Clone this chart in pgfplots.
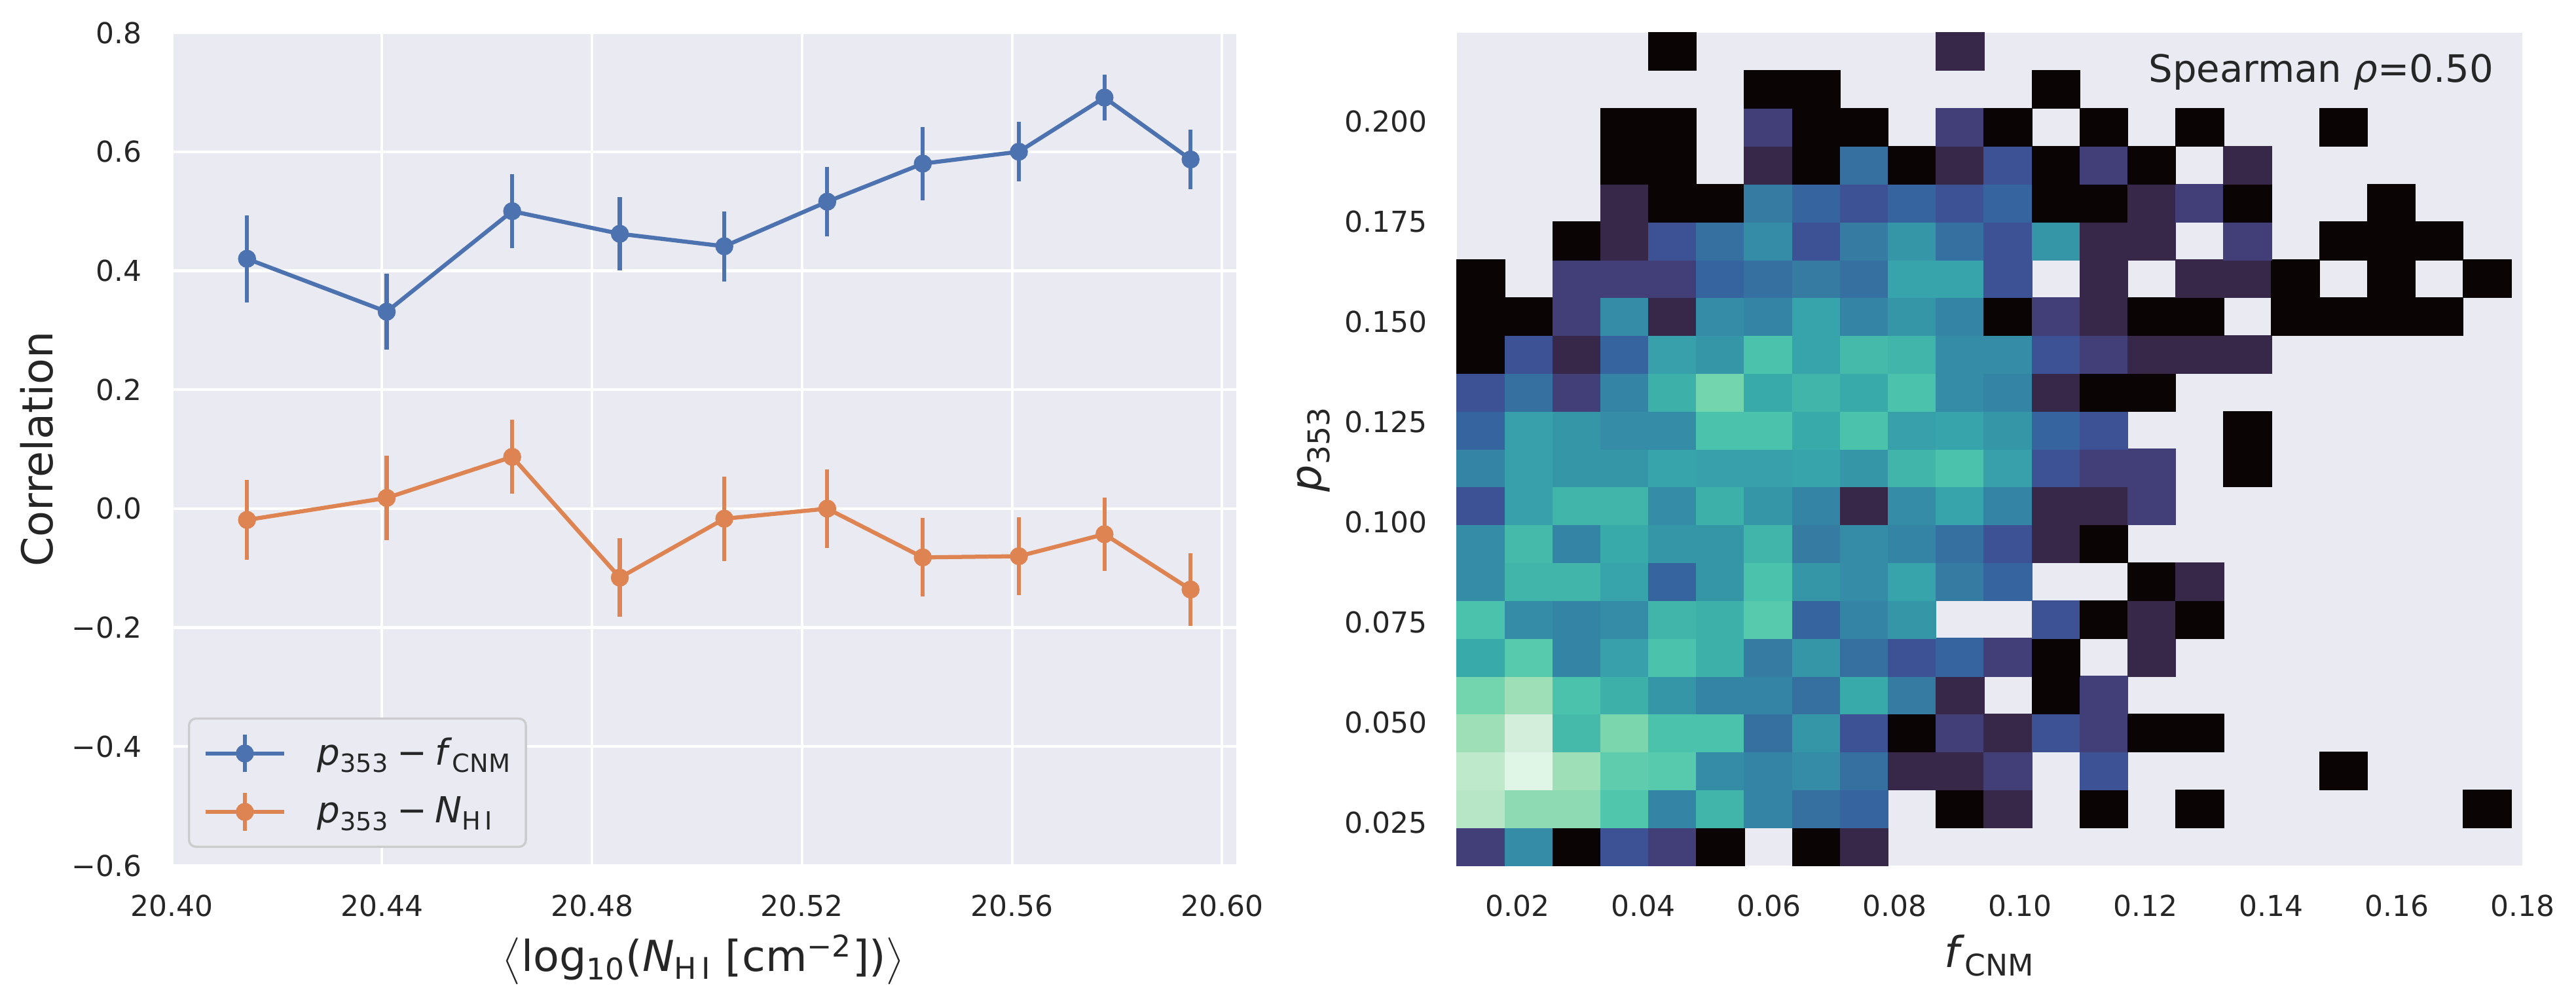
\documentclass[border=0pt]{standalone}
\usepackage{amsmath}
\usepackage{fontspec}
\setmainfont{DejaVu Sans}
\usepackage{pgfplots}
\usepackage{pgfplotstable}
\pgfplotsset{compat=1.18}
\definecolor{bgc}{HTML}{EAEAF2}
\definecolor{txt}{HTML}{262626}
\definecolor{sblue}{HTML}{4C72B0}
\definecolor{sorange}{HTML}{DD8452}
\definecolor{legedge}{HTML}{CCCCCC}

% colour classes (class 1 = darkest, 28 = lightest)
\pgfplotsset{colormap={heat}{
rgb255=(234,234,242) rgb255=(10,4,5) rgb255=(55,40,74) rgb255=(66,62,120) rgb255=(61,82,148)
rgb255=(54,100,158) rgb255=(53,112,160) rgb255=(53,123,162) rgb255=(52,132,166) rgb255=(52,140,167)
rgb255=(53,150,167) rgb255=(55,160,170) rgb255=(55,164,171) rgb255=(57,170,170) rgb255=(62,176,170)
rgb255=(65,181,170) rgb255=(69,186,171) rgb255=(75,194,171) rgb255=(80,199,173) rgb255=(87,202,173)
rgb255=(95,205,173) rgb255=(115,213,174) rgb255=(123,214,174) rgb255=(142,218,178) rgb255=(158,223,183)
rgb255=(182,230,198) rgb255=(190,233,203) rgb255=(211,239,220) rgb255=(223,245,230)}}

% non-empty 2-D histogram bins: bin centre x, bin centre y, colour level
\pgfplotstableread[row sep=\\]{
x y c\\
0.01413 0.01905 3\\ 0.02176 0.01905 9\\ 0.02939 0.01905 1\\ 0.03702 0.01905 4\\ 0.04465 0.01905 3\\ 0.05229 0.01905 1\\ 0.06755 0.01905 1\\ 0.07518 0.01905 2\\
0.01413 0.02850 25\\ 0.02176 0.02850 23\\ 0.02939 0.02850 23\\ 0.03702 0.02850 18\\ 0.04465 0.02850 8\\ 0.05229 0.02850 15\\ 0.05992 0.02850 8\\ 0.06755 0.02850 6\\ 0.07518 0.02850 5\\ 0.09045 0.02850 1\\ 0.09808 0.02850 2\\ 0.11334 0.02850 1\\ 0.12861 0.02850 1\\ 0.17440 0.02850 1\\
0.01413 0.03795 26\\ 0.02176 0.03795 28\\ 0.02939 0.03795 24\\ 0.03702 0.03795 20\\ 0.04465 0.03795 19\\ 0.05229 0.03795 9\\ 0.05992 0.03795 8\\ 0.06755 0.03795 9\\ 0.07518 0.03795 6\\ 0.08281 0.03795 2\\ 0.09045 0.03795 2\\ 0.09808 0.03795 3\\ 0.11334 0.03795 4\\ 0.15150 0.03795 1\\
0.01413 0.04740 24\\ 0.02176 0.04740 27\\ 0.02939 0.04740 16\\ 0.03702 0.04740 22\\ 0.04465 0.04740 17\\ 0.05229 0.04740 17\\ 0.05992 0.04740 6\\ 0.06755 0.04740 10\\ 0.07518 0.04740 4\\ 0.08281 0.04740 1\\ 0.09045 0.04740 3\\ 0.09808 0.04740 2\\ 0.10571 0.04740 4\\ 0.11334 0.04740 3\\ 0.12097 0.04740 1\\ 0.12861 0.04740 1\\
0.01413 0.05685 21\\ 0.02176 0.05685 24\\ 0.02939 0.05685 17\\ 0.03702 0.05685 14\\ 0.04465 0.05685 10\\ 0.05229 0.05685 8\\ 0.05992 0.05685 8\\ 0.06755 0.05685 6\\ 0.07518 0.05685 13\\ 0.08281 0.05685 7\\ 0.09045 0.05685 2\\ 0.10571 0.05685 1\\ 0.11334 0.05685 3\\
0.01413 0.06629 13\\ 0.02176 0.06629 19\\ 0.02939 0.06629 8\\ 0.03702 0.06629 11\\ 0.04465 0.06629 17\\ 0.05229 0.06629 14\\ 0.05992 0.06629 7\\ 0.06755 0.06629 10\\ 0.07518 0.06629 6\\ 0.08281 0.06629 4\\ 0.09045 0.06629 5\\ 0.09808 0.06629 3\\ 0.10571 0.06629 1\\ 0.12097 0.06629 2\\
0.01413 0.07574 17\\ 0.02176 0.07574 9\\ 0.02939 0.07574 8\\ 0.03702 0.07574 9\\ 0.04465 0.07574 15\\ 0.05229 0.07574 14\\ 0.05992 0.07574 19\\ 0.06755 0.07574 5\\ 0.07518 0.07574 8\\ 0.08281 0.07574 10\\ 0.10571 0.07574 4\\ 0.11334 0.07574 1\\ 0.12097 0.07574 2\\ 0.12861 0.07574 1\\
0.01413 0.08519 9\\ 0.02176 0.08519 15\\ 0.02939 0.08519 15\\ 0.03702 0.08519 12\\ 0.04465 0.08519 5\\ 0.05229 0.08519 10\\ 0.05992 0.08519 17\\ 0.06755 0.08519 10\\ 0.07518 0.08519 9\\ 0.08281 0.08519 12\\ 0.09045 0.08519 7\\ 0.09808 0.08519 5\\ 0.12097 0.08519 1\\ 0.12861 0.08519 2\\
0.01413 0.09464 9\\ 0.02176 0.09464 16\\ 0.02939 0.09464 8\\ 0.03702 0.09464 13\\ 0.04465 0.09464 10\\ 0.05229 0.09464 10\\ 0.05992 0.09464 15\\ 0.06755 0.09464 7\\ 0.07518 0.09464 9\\ 0.08281 0.09464 8\\ 0.09045 0.09464 6\\ 0.09808 0.09464 4\\ 0.10571 0.09464 2\\ 0.11334 0.09464 1\\
0.01413 0.10409 4\\ 0.02176 0.10409 11\\ 0.02939 0.10409 15\\ 0.03702 0.10409 15\\ 0.04465 0.10409 9\\ 0.05229 0.10409 14\\ 0.05992 0.10409 10\\ 0.06755 0.10409 8\\ 0.07518 0.10409 2\\ 0.08281 0.10409 9\\ 0.09045 0.10409 12\\ 0.09808 0.10409 8\\ 0.10571 0.10409 2\\ 0.11334 0.10409 2\\ 0.12097 0.10409 3\\
0.01413 0.11353 8\\ 0.02176 0.11353 11\\ 0.02939 0.11353 10\\ 0.03702 0.11353 10\\ 0.04465 0.11353 12\\ 0.05229 0.11353 11\\ 0.05992 0.11353 11\\ 0.06755 0.11353 12\\ 0.07518 0.11353 10\\ 0.08281 0.11353 15\\ 0.09045 0.11353 17\\ 0.09808 0.11353 11\\ 0.10571 0.11353 4\\ 0.11334 0.11353 3\\ 0.12097 0.11353 3\\ 0.13624 0.11353 1\\
0.01413 0.12298 5\\ 0.02176 0.12298 11\\ 0.02939 0.12298 10\\ 0.03702 0.12298 9\\ 0.04465 0.12298 9\\ 0.05229 0.12298 17\\ 0.05992 0.12298 17\\ 0.06755 0.12298 13\\ 0.07518 0.12298 17\\ 0.08281 0.12298 11\\ 0.09045 0.12298 12\\ 0.09808 0.12298 10\\ 0.10571 0.12298 5\\ 0.11334 0.12298 4\\ 0.13624 0.12298 1\\
0.01413 0.13243 4\\ 0.02176 0.13243 6\\ 0.02939 0.13243 3\\ 0.03702 0.13243 8\\ 0.04465 0.13243 14\\ 0.05229 0.13243 21\\ 0.05992 0.13243 13\\ 0.06755 0.13243 15\\ 0.07518 0.13243 13\\ 0.08281 0.13243 17\\ 0.09045 0.13243 9\\ 0.09808 0.13243 8\\ 0.10571 0.13243 2\\ 0.11334 0.13243 1\\ 0.12097 0.13243 1\\
0.01413 0.14188 1\\ 0.02176 0.14188 4\\ 0.02939 0.14188 2\\ 0.03702 0.14188 5\\ 0.04465 0.14188 11\\ 0.05229 0.14188 10\\ 0.05992 0.14188 17\\ 0.06755 0.14188 12\\ 0.07518 0.14188 16\\ 0.08281 0.14188 15\\ 0.09045 0.14188 9\\ 0.09808 0.14188 9\\ 0.10571 0.14188 4\\ 0.11334 0.14188 3\\ 0.12097 0.14188 2\\ 0.12861 0.14188 2\\ 0.13624 0.14188 2\\
0.01413 0.15133 1\\ 0.02176 0.15133 1\\ 0.02939 0.15133 3\\ 0.03702 0.15133 9\\ 0.04465 0.15133 2\\ 0.05229 0.15133 9\\ 0.05992 0.15133 8\\ 0.06755 0.15133 12\\ 0.07518 0.15133 8\\ 0.08281 0.15133 10\\ 0.09045 0.15133 8\\ 0.09808 0.15133 1\\ 0.10571 0.15133 3\\ 0.11334 0.15133 2\\ 0.12097 0.15133 1\\ 0.12861 0.15133 1\\ 0.14387 0.15133 1\\ 0.15150 0.15133 1\\ 0.15913 0.15133 1\\ 0.16677 0.15133 1\\
0.01413 0.16077 1\\ 0.02939 0.16077 3\\ 0.03702 0.16077 3\\ 0.04465 0.16077 3\\ 0.05229 0.16077 5\\ 0.05992 0.16077 6\\ 0.06755 0.16077 7\\ 0.07518 0.16077 6\\ 0.08281 0.16077 12\\ 0.09045 0.16077 12\\ 0.09808 0.16077 4\\ 0.11334 0.16077 2\\ 0.12861 0.16077 2\\ 0.13624 0.16077 2\\ 0.14387 0.16077 1\\ 0.15913 0.16077 1\\ 0.17440 0.16077 1\\
0.02939 0.17022 1\\ 0.03702 0.17022 2\\ 0.04465 0.17022 4\\ 0.05229 0.17022 6\\ 0.05992 0.17022 9\\ 0.06755 0.17022 4\\ 0.07518 0.17022 7\\ 0.08281 0.17022 10\\ 0.09045 0.17022 6\\ 0.09808 0.17022 4\\ 0.10571 0.17022 10\\ 0.11334 0.17022 2\\ 0.12097 0.17022 2\\ 0.13624 0.17022 3\\ 0.15150 0.17022 1\\ 0.15913 0.17022 1\\ 0.16677 0.17022 1\\
0.03702 0.17967 2\\ 0.04465 0.17967 1\\ 0.05229 0.17967 1\\ 0.05992 0.17967 7\\ 0.06755 0.17967 5\\ 0.07518 0.17967 4\\ 0.08281 0.17967 5\\ 0.09045 0.17967 4\\ 0.09808 0.17967 5\\ 0.10571 0.17967 1\\ 0.11334 0.17967 1\\ 0.12097 0.17967 2\\ 0.12861 0.17967 3\\ 0.13624 0.17967 1\\ 0.15913 0.17967 1\\
0.03702 0.18912 1\\ 0.04465 0.18912 1\\ 0.05992 0.18912 2\\ 0.06755 0.18912 1\\ 0.07518 0.18912 6\\ 0.08281 0.18912 1\\ 0.09045 0.18912 2\\ 0.09808 0.18912 4\\ 0.10571 0.18912 1\\ 0.11334 0.18912 3\\ 0.12097 0.18912 1\\ 0.13624 0.18912 2\\
0.03702 0.19857 1\\ 0.04465 0.19857 1\\ 0.05992 0.19857 3\\ 0.06755 0.19857 1\\ 0.07518 0.19857 1\\ 0.09045 0.19857 3\\ 0.09808 0.19857 1\\ 0.11334 0.19857 1\\ 0.12861 0.19857 1\\ 0.15150 0.19857 1\\
0.05992 0.20801 1\\ 0.06755 0.20801 1\\ 0.10571 0.20801 1\\
0.04465 0.21746 1\\ 0.09045 0.21746 2\\
}\heat

\pgfplotstableread{
x y e
20.4143 0.420 0.073
20.4409 0.331 0.064
20.4648 0.500 0.062
20.4853 0.462 0.062
20.5052 0.441 0.059
20.5248 0.516 0.058
20.5430 0.580 0.062
20.5613 0.600 0.050
20.5776 0.691 0.039
20.5940 0.587 0.050
}\bluedata

\pgfplotstableread{
x y e
20.4143 -0.019 0.067
20.4409 0.018 0.071
20.4648 0.087 0.062
20.4853 -0.116 0.066
20.5052 -0.017 0.071
20.5248 0.000 0.066
20.5430 -0.082 0.066
20.5613 -0.080 0.065
20.5776 -0.043 0.062
20.5940 -0.136 0.061
}\orangedata

\begin{document}
\begin{tikzpicture}
\path[use as bounding box] (0bp,0bp) rectangle (944.16bp,368.16bp);

\begin{axis}[
  at={(62.64bp,50.88bp)}, anchor=south west,
  scale only axis, width=390.48bp, height=305.28bp,
  xmin=20.3998, xmax=20.6027, ymin=-0.6, ymax=0.8,
  axis background/.style={fill=bgc},
  axis line style={draw=none}, tick style={draw=none}, major tick length=0pt,
  grid=major, major grid style={draw=white, line width=1bp},
  xtick={20.40,20.44,20.48,20.52,20.56,20.60},
  xticklabels={20.40,20.44,20.48,20.52,20.56,20.60},
  ytick={-0.6,-0.4,-0.2,0,0.2,0.4,0.6,0.8},
  yticklabels={−0.6,−0.4,−0.2,0.0,0.2,0.4,0.6,0.8},
  tick label style={font=\fontsize{10.6}{12}\selectfont, text=txt},
  xticklabel style={inner sep=0pt, anchor=north, yshift=-10.6bp},
  yticklabel style={inner sep=0pt, anchor=east, xshift=-10.4bp},
  label style={font=\fontsize{15.7}{18}\selectfont, text=txt},
  xlabel={$\big\langle$log\textsubscript{10}(\textit{N}\textsubscript{H\,I} [cm\textsuperscript{−2}])$\big\rangle$},
  xlabel style={at={(axis description cs:0.5,-0.0825)}, anchor=north, inner sep=0pt},
  ylabel={Correlation},
  ylabel style={at={(axis description cs:-0.126,0.5)}, anchor=center, inner sep=0pt},
  legend cell align=left,
  legend style={at={(axis description cs:0.016,0.0212)}, anchor=south west,
    fill=bgc, draw=legedge, line width=0.8bp, rounded corners=2.5bp,
    font=\fontsize{13.2}{16}\selectfont, text=txt,
    inner xsep=5.2bp, inner ysep=5.2bp, row sep=6.2bp, column sep=11.3bp,
    nodes={inner sep=0pt}},
  legend image code/.code={
    \draw[#1, mark=none] (0bp,0bp) -- (29bp,0bp);
    \draw[#1, mark=none] (14.5bp,-6.85bp) -- (14.5bp,6.85bp);
    \draw[#1] plot coordinates {(14.5bp,0bp)};
  },
]
\addplot[sblue, line width=1.5bp, mark=*, mark size=2.9bp,
  mark options={solid, fill=sblue, line width=0.8bp},
  error bars/.cd, y dir=both, y explicit, error mark=none,
  error bar style={line width=1.5bp, sblue}]
  table[x=x, y=y, y error=e] {\bluedata};
\addlegendentry{\textit{p}\textsubscript{353}\hspace{0.22em}−\hspace{0.22em}\textit{f}\textsubscript{CNM}}
\addplot[sorange, line width=1.5bp, mark=*, mark size=2.9bp,
  mark options={solid, fill=sorange, line width=0.8bp},
  error bars/.cd, y dir=both, y explicit, error mark=none,
  error bar style={line width=1.5bp, sorange}]
  table[x=x, y=y, y error=e] {\orangedata};
\addlegendentry{\textit{p}\textsubscript{353}\hspace{0.22em}−\hspace{0.22em}\textit{N}\textsubscript{H\,I}}
\end{axis}

\begin{axis}[
  name=hm,
  at={(534bp,50.88bp)}, anchor=south west,
  scale only axis, width=390.48bp, height=305.28bp,
  xmin=0.01031, xmax=0.18, ymin=0.01433, ymax=0.22219,
  axis background/.style={fill=bgc},
  axis line style={draw=none}, tick style={draw=none}, major tick length=0pt,
  xtick={0.02,0.04,0.06,0.08,0.10,0.12,0.14,0.16,0.18},
  xticklabels={0.02,0.04,0.06,0.08,0.10,0.12,0.14,0.16,0.18},
  ytick={0.025,0.05,0.075,0.1,0.125,0.15,0.175,0.2},
  yticklabels={0.025,0.050,0.075,0.100,0.125,0.150,0.175,0.200},
  tick label style={font=\fontsize{10.6}{12}\selectfont, text=txt},
  xticklabel style={inner sep=0pt, anchor=north, yshift=-10.6bp},
  yticklabel style={inner sep=0pt, anchor=east, xshift=-10.8bp},
  label style={font=\fontsize{15.7}{18}\selectfont, text=txt},
  xlabel={\textit{f}\textsubscript{CNM}},
  xlabel style={at={(axis description cs:0.5,-0.0825)}, anchor=north, inner sep=0pt},
  ylabel={\textit{p}\textsubscript{353}},
  ylabel style={at={(axis description cs:-0.1347,0.5)}, anchor=center, inner sep=0pt},
  colormap name=heat, point meta min=0, point meta max=28,
]
% each non-empty 2-D histogram bin: a filled rectangle centred on the bin centre
\addplot[scatter, only marks, mark=square*, mark size=6.938bp,
  point meta=explicit,
  scatter/use mapped color={draw=mapped color, fill=mapped color},
  mark options={xscale=1.2657, line width=0.3pt}]
  table[x=x, y=y, meta=c] {\heat};
\end{axis}
\node[anchor=base east, inner sep=0pt, font=\fontsize{13.9}{16}\selectfont, text=txt]
  at ([xshift=-10.3bp, yshift=-18.1bp]hm.north east) {Spearman \textit{ρ}=0.50};
\end{tikzpicture}
\end{document}
